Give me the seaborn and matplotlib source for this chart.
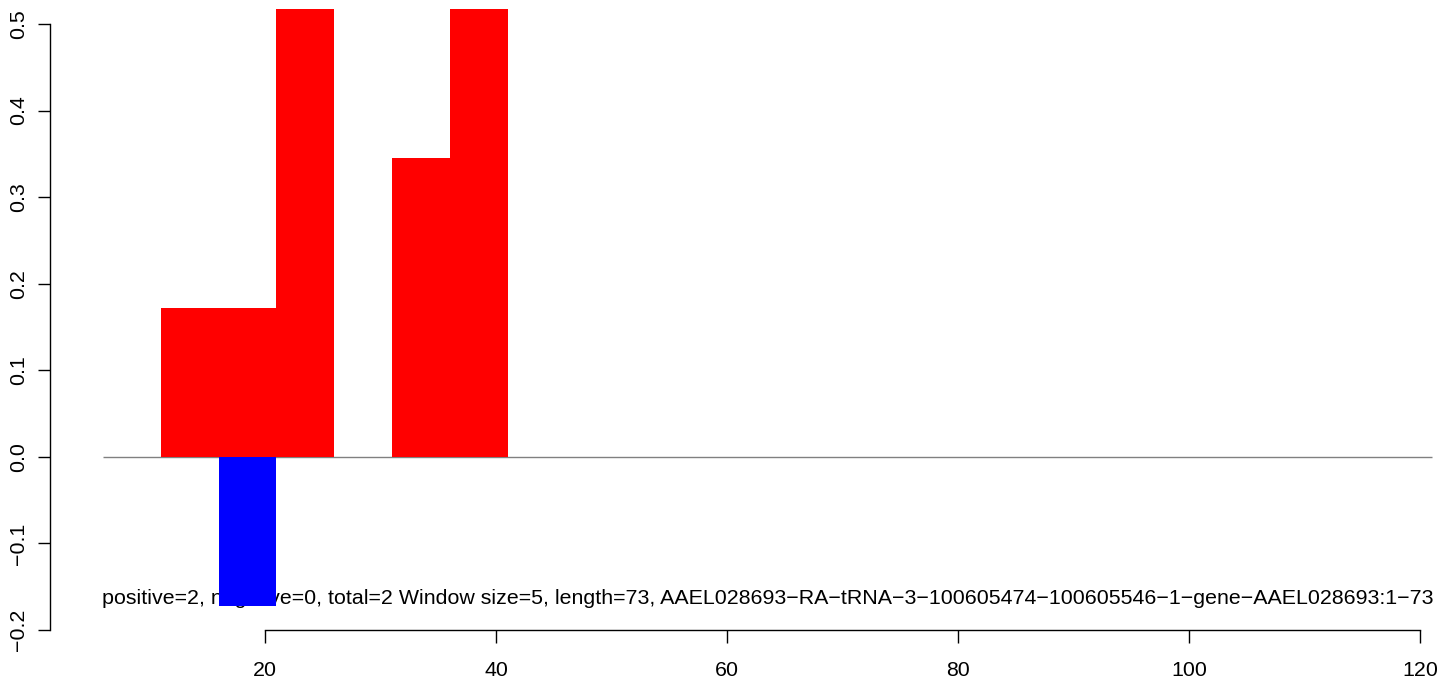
import matplotlib
matplotlib.use("Agg")
import matplotlib.pyplot as plt
import seaborn as sns
import numpy as np
import pandas as pd

# Data
window_size = 5
pos_starts = [11, 16, 21, 31, 36]
pos_values = [0.1724, 0.1724, 0.6897, 0.3448, 0.6897]
neg_starts = [16]
neg_values = [-0.1724]
baseline_x = [6, 121]
x_ticks = [20, 40, 60, 80, 100, 120]
y_ticks = [-0.2, -0.1, 0.0, 0.1, 0.2, 0.3, 0.4, 0.5]
label = ("positive=2, negative=0, total=2 Window size=5, length=73, "
         "AAEL028693\u2212RA\u2212tRNA\u22123\u2212100605474\u2212100605546"
         "\u22121\u2212gene\u2212AAEL028693:1\u221273")

df = pd.DataFrame({
    "center": np.array(pos_starts + neg_starts) + window_size / 2,
    "value": pos_values + neg_values,
    "strand": ["pos"] * len(pos_starts) + ["neg"] * len(neg_starts),
})

sns.set_style("white")
plt.rcParams["font.family"] = ["Liberation Sans", "DejaVu Sans"]
plt.rcParams["text.color"] = "black"
plt.rcParams["xtick.color"] = "black"
plt.rcParams["ytick.color"] = "black"

fig = plt.figure(figsize=(14.44, 6.81), dpi=100)
ax = fig.add_axes([50 / 1444, 51 / 681, 1435 / 1444, 621 / 681])

sns.barplot(data=df, x="center", y="value", hue="strand", native_scale=True,
            dodge=False, width=1, errorbar=None, saturation=1, linewidth=0,
            palette={"pos": "#FF0000", "neg": "#0000FF"}, legend=False, ax=ax)

# zero line + caption (caption sits under the bars)
ax.hlines(0, baseline_x[0], baseline_x[1], color="#808080", lw=1, zorder=0.8)
ax.text(np.mean(baseline_x), -0.164, label, ha="center", va="center",
        fontsize=15.4, color="black", zorder=0.5)

ax.set_xlim(1.4, 125.6)
ax.set_ylim(-0.2, 0.5174)
ax.set_xticks(x_ticks)
ax.set_xticklabels([str(t) for t in x_ticks])
ax.set_yticks(y_ticks)
ax.set_yticklabels([f"{t:.1f}".replace("-", "\u2212") for t in y_ticks], rotation=90, va="center")
ax.set_xlabel("")
ax.set_ylabel("")

for s in ["top", "right"]:
    ax.spines[s].set_visible(False)
ax.spines["left"].set_bounds(-0.2, 0.5)
ax.spines["bottom"].set_bounds(20, 120)
for s in ["left", "bottom"]:
    ax.spines[s].set_color("black")
    ax.spines[s].set_linewidth(1)
ax.tick_params(axis="both", direction="out", length=9, width=1, color="black",
               labelsize=15.4, labelcolor="black", left=True, bottom=True)
ax.tick_params(axis="x", pad=13)
ax.tick_params(axis="y", pad=6.5)

fig.savefig("out.png", dpi=100)
